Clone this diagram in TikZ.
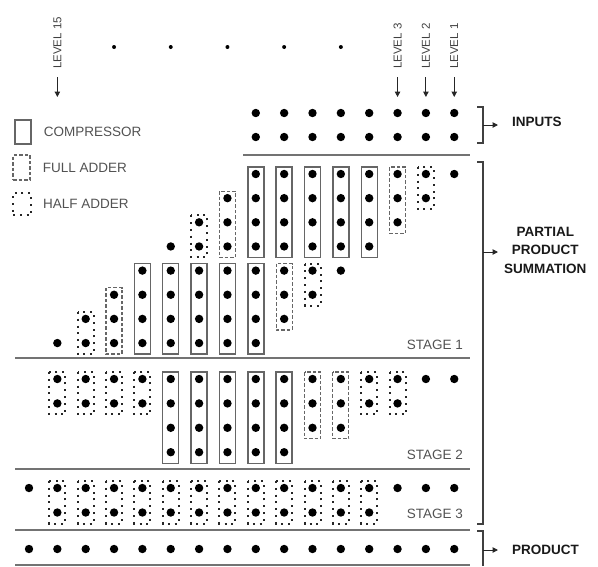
\documentclass[tikz,border=0pt]{standalone}
\usepackage{fontspec}
\setmainfont{Liberation Sans}
\usetikzlibrary{arrows.meta, positioning}

\newcommand{\colpos}[1]{29+(#1-1)*28.35}
\newcommand{\rowone}[1]{174+(#1-1)*24.15}
\newcommand{\rowtwo}[1]{379+(#1-1)*24.4}
\newcommand{\rowthree}[1]{488+(#1-1)*24.5}
\newcommand{\unitbox}[4]{\draw[#1] ({\colpos{#2}-8},{#3-7}) rectangle ({\colpos{#2}+8},{#4+11});}

\begin{document}
\begin{tikzpicture}[
    x=1pt, y=-1pt,
    bigdot/.style={
        circle,
        fill=black,
        inner sep=0pt,
        minimum size=8.4pt
    },
    smalldot/.style={
        circle,
        fill=black,
        inner sep=0pt,
        minimum size=4pt
    },
    comp/.style={draw=black!60, line width=1.4pt},
    fulladd/.style={draw=black!60, line width=1.2pt, dash pattern=on 3.5pt off 2pt},
    halfadd/.style={draw=black!85, line width=2pt, dash pattern=on 2pt off 4.8pt},
    divider/.style={draw=black!55, line width=1.6pt},
    bracket/.style={draw=black!75, line width=1.3pt},
    keytext/.style={font=\fontsize{13.5}{16}\selectfont, text=black!68, inner sep=0pt},
    lvltext/.style={font=\fontsize{11.5}{14}\selectfont, text=black!75, inner sep=0pt, rotate=90, anchor=west},
    sumtext/.style={font=\bfseries\fontsize{13.5}{18.5}\selectfont, text=black!90, align=center, inner sep=0pt},
    arrow/.style={
        -{Triangle[length=5.5pt, width=5.5pt]},
        line width=1pt,
        black!85
    }
]
\useasboundingbox (0,0) rectangle (598,566);

% === Legend ===
\node[comp, minimum width=16pt, minimum height=24pt, inner sep=0pt] (keycomp) at (23,132) {};
\node[keytext, right=12pt of keycomp] (keycomptxt) {COMPRESSOR};
\node[fulladd, minimum width=17pt, minimum height=25pt, inner sep=0pt] (keyfa) at (21.5,167.5) {};
\node[keytext, right=12pt of keyfa] (keyfatxt) {FULL ADDER};
\node[halfadd, minimum width=18pt, minimum height=22pt, inner sep=0pt] (keyha) at (22,204) {};
\node[keytext, right=11pt of keyha] (keyhatxt) {HALF ADDER};

% === Levels ===
\foreach \c/\t in {2/15, 14/3, 15/2, 16/1} {
    \coordinate (tip\t) at ({\colpos{\c}},97);
    \node[lvltext] (lvl\t) at ({\colpos{\c}},69) {LEVEL \t};
    \draw[arrow, shorten <=8pt] (lvl\t.west) -- (tip\t);
}
\foreach \c in {4,6,...,12}
    \node[smalldot] (gap\c) at ({\colpos{\c}},47) {};

% === Inputs ===
\foreach \c in {9,...,16}
    \foreach \r/\y in {1/113, 2/137}
        \node[bigdot] (in-\c-\r) at ({\colpos{\c}},\y) {};

% === Dividers ===
\draw[divider] (243,155) -- (470,155);
\foreach \y in {358, 469, 530, 565}
    \draw[divider] (15,\y) -- (470,\y);

% === Stage 1 ===
\foreach \c/\a/\b in {5/5/8, 6/5/8, 7/5/8, 8/5/8, 9/5/8, 9/1/4, 10/1/4, 11/1/4, 12/1/4, 13/1/4}
    {\unitbox{comp}{\c}{\rowone{\a}}{\rowone{\b}}}
\foreach \c/\a/\b in {4/6/8, 8/2/4, 10/5/7, 14/1/3}
    {\unitbox{fulladd}{\c}{\rowone{\a}}{\rowone{\b}}}
\foreach \c/\a/\b in {3/7/8, 7/3/4, 11/5/6, 15/1/2}
    {\unitbox{halfadd}{\c}{\rowone{\a}}{\rowone{\b}}}
\foreach \c/\a/\b in {2/8/8, 3/7/8, 4/6/8, 5/5/8, 6/4/8, 7/3/8, 8/2/8, 9/1/8,
                      10/1/7, 11/1/6, 12/1/5, 13/1/4, 14/1/3, 15/1/2, 16/1/1}
    \foreach \r in {\a,...,\b}
        \node[bigdot] (sa-\c-\r) at ({\colpos{\c}},{\rowone{\r}}) {};
\node[keytext, anchor=east] (stage1) at (463,345) {STAGE 1};

% === Stage 2 ===
\foreach \c in {6,...,10}
    {\unitbox{comp}{\c}{\rowtwo{1}}{\rowtwo{4}}}
\foreach \c in {11,12}
    {\unitbox{fulladd}{\c}{\rowtwo{1}}{\rowtwo{3}}}
\foreach \c in {2,3,4,5,13,14}
    {\unitbox{halfadd}{\c}{\rowtwo{1}}{\rowtwo{2}}}
\foreach \c/\b in {2/2, 3/2, 4/2, 5/2, 6/4, 7/4, 8/4, 9/4, 10/4,
                   11/3, 12/3, 13/2, 14/2, 15/1, 16/1}
    \foreach \r in {1,...,\b}
        \node[bigdot] (sb-\c-\r) at ({\colpos{\c}},{\rowtwo{\r}}) {};
\node[keytext, anchor=east] (stage2) at (463,454.5) {STAGE 2};

% === Stage 3 ===
\foreach \c in {2,...,13}
    {\unitbox{halfadd}{\c}{\rowthree{1}}{\rowthree{2}}}
\foreach \c/\b in {1/1, 2/2, 3/2, 4/2, 5/2, 6/2, 7/2, 8/2, 9/2, 10/2,
                   11/2, 12/2, 13/2, 14/1, 15/1, 16/1}
    \foreach \r in {1,...,\b}
        \node[bigdot] (sc-\c-\r) at ({\colpos{\c}},{\rowthree{\r}}) {};
\node[keytext, anchor=east] (stage3) at (463,514) {STAGE 3};

% === Product ===
\foreach \c in {1,...,16}
    \node[bigdot] (out-\c) at ({\colpos{\c}},549) {};

% === Brackets and labels (right side) ===
\draw[bracket] (477,107) -- (483,107) -- (483,143) -- (477,143);
\draw[bracket] (477,162) -- (483,162) -- (483,524) -- (477,524);
\draw[bracket] (477,531) -- (483,531) -- (483,566);

\coordinate (inb) at (483,125);
\coordinate[right=15pt of inb] (inb-tip);
\node[sumtext, right=14pt of inb-tip, yshift=3pt] (inputs) {INPUTS};
\draw[arrow] (inb) -- (inb-tip);

\coordinate (ppb) at (483,252);
\coordinate[right=15pt of ppb] (ppb-tip);
\node[sumtext, right=6pt of ppb-tip, yshift=2pt] (summation) {PARTIAL\\PRODUCT\\SUMMATION};
\draw[arrow] (ppb) -- (ppb-tip);

\coordinate (outb) at (483,550);
\coordinate[right=15pt of outb] (outb-tip);
\node[sumtext, right=14pt of outb-tip] (product) {PRODUCT};
\draw[arrow] (outb) -- (outb-tip);

\end{tikzpicture}
\end{document}
